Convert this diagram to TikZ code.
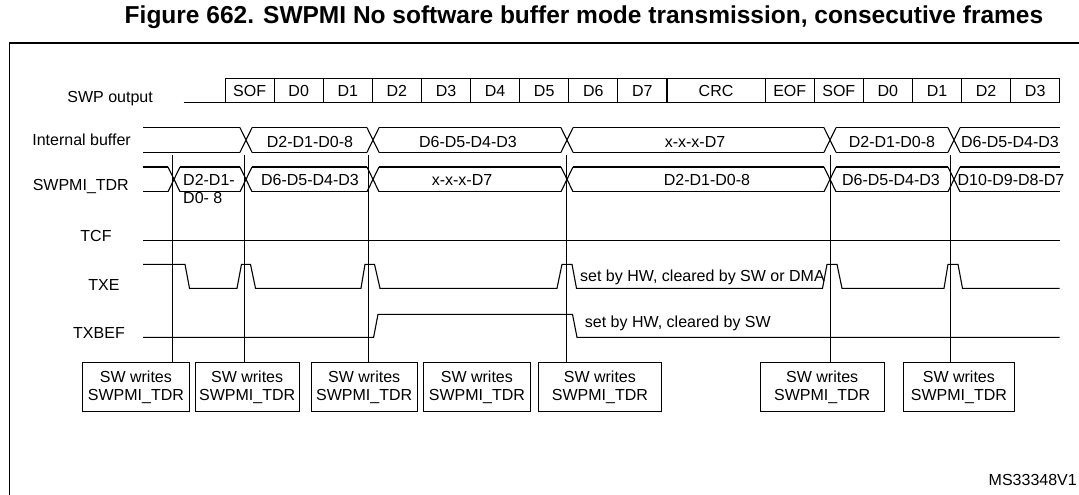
\documentclass[tikz,border=0pt]{standalone}
\usepackage{fontspec}
\setmainfont{Liberation Sans}
\usetikzlibrary{positioning}

\tikzset{
  sig/.style={line width=1.1pt},
  lbl/.style={font=\fontsize{16}{18}\selectfont, inner sep=0pt},
  slot/.style={draw, line width=1.1pt, minimum height=24pt, inner sep=0pt, font=\fontsize{16}{18}\selectfont},
  swbox/.style={draw, line width=0.8pt, align=center, minimum height=48.4pt, inner sep=1pt, font=\fontsize{16}{18}\selectfont}
}
% one bus crossing at x=#1 between y=#2 (top) and y=#3 (bottom)
\newcommand\buscross[3]{%
  \fill[white] (#1-6,#2-2) rectangle (#1+6,#3+2);
  \draw[sig] (#1-6,#2) -- (#1+6,#3) (#1-6,#3) -- (#1+6,#2);}

\begin{document}
\begin{tikzpicture}[x=1pt, y=-1pt]
  \useasboundingbox (0,0) rectangle (1079,495);
  % frame and title
  \draw[line width=1.3pt] (9.3,495) -- (9.3,43) -- (1079,43);
  \node (title) at (584,17) {\fontsize{24.5}{26}\selectfont\bfseries Figure 662. SWPMI No software buffer mode transmission, consecutive frames};

  % signal names
  \node[lbl, anchor=east] (swp) at (153,98.3) {SWP output};
  \node[lbl, anchor=east] (ibuf) at (131,140) {Internal buffer};
  \node[lbl, anchor=east] (tdr) at (129,186.7) {SWPMI\_TDR};
  \node[lbl] (tcf) at (96,236) {TCF};
  \node[lbl] (txe) at (104,285) {TXE};
  \node[lbl] (txbef) at (99,333) {TXBEF};

  % SWP output frames
  \draw[sig] (183.5,102.3) -- (224.5,102.3);
  \foreach \k/\w/\t in {0/1/SOF,1/1/D0,2/1/D1,3/1/D2,4/1/D3,5/1/D4,6/1/D5,7/1/D6,8/1/D7,9/2/CRC,11/1/EOF,12/1/SOF,13/1/D0,14/1/D1,15/1/D2,16/1/D3}
    \node[slot, anchor=north west, minimum width=\w*49.1pt] (s\k) at (224.5+\k*49.1,78.3) {\t};

  % internal buffer
  \draw[sig] (143,127.7) -- (1059.6,127.7) (143,152.3) -- (1059.6,152.3);
  \foreach \x in {246,373,567,830,954} \buscross{\x}{127.7}{152.3};
  \foreach \x/\t/\n in {310/D2-D1-D0-8/ib1, 468/D6-D5-D4-D3/ib2, 695/x-x-x-D7/ib3, 892/D2-D1-D0-8/ib4, 1010/D6-D5-D4-D3/ib5}
    \node[lbl] (\n) at (\x,141.7) {\t};

  % SWPMI_TDR
  \draw[sig] (143,167) -- (1059.6,167) (143,191.7) -- (1059.6,191.7);
  \foreach \x in {174,246,373,567,830,954} \buscross{\x}{167}{191.7};
  \node[lbl, anchor=west, align=left] (td1) at (183,189) {D2-D1-\\D0- 8};
  \foreach \x/\t/\n in {310/D6-D5-D4-D3/td2, 462/x-x-x-D7/td3, 707/D2-D1-D0-8/td4, 891/D6-D5-D4-D3/td5, 1011/D10-D9-D8-D7/td6}
    \node[lbl] (\n) at (\x,179.5) {\t};

  % TCF
  \draw[sig] (143,240.3) -- (1059.6,240.3);

  % TXE
  \draw[sig] (143,264.3) -- (185,264.3) -- (189.5,288.3) -- (237,288.3) -- (241.5,264.3) -- (250.5,264.3) -- (255.5,288.3)
    -- (361,288.3) -- (365,264.3) -- (374.5,264.3) -- (380,288.3)
    -- (557,288.3) -- (562,264.3) -- (572,264.3) -- (576.5,288.3)
    -- (822.5,288.3) -- (827,264.3) -- (837,264.3) -- (842,288.3)
    -- (944,288.3) -- (948,264.3) -- (958,264.3) -- (962.5,288.3) -- (1059.6,288.3);
  \node[lbl, anchor=west] (txenote) at (580,277) {set by HW, cleared by SW or DMA};

  % TXBEF
  \draw[sig] (143,337.3) -- (373.6,337.3) -- (378,314.3) -- (572.5,314.3) -- (577,337.3) -- (1059.6,337.3);
  \node[lbl, anchor=west] (txbefnote) at (584.7,323.3) {set by HW, cleared by SW};

  % software write boxes and markers
  \foreach \l/\r/\n in {82/189/w1, 195/298.5/w2, 310.6/417/w3, 423/530/w4, 538/661/w5, 760/883.6/w6, 903/1014/w7}
    \node[swbox, anchor=north west, minimum width=\r pt-\l pt] (\n) at (\l,362.3) {SW writes\\SWPMI\_TDR};
  \foreach \v/\n in {172/w1, 244.5/w2, 368/w3, 566/w5, 830/w6, 950.6/w7}
    \draw[line width=0.7pt] (\v,155) -- (\v,0 |- \n.north);

  \node[lbl, anchor=east] (code) at (1077,480) {MS33348V1};
\end{tikzpicture}
\end{document}
